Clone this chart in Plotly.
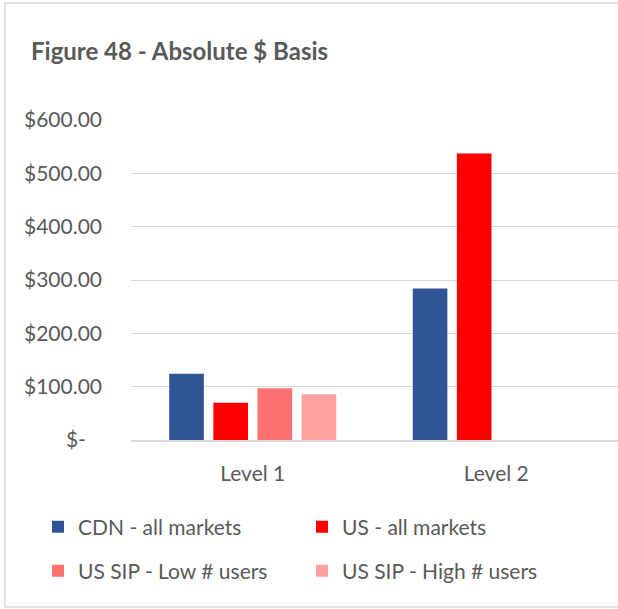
import plotly.graph_objects as go

# Categories and series values (USD)
levels = ["Level 1", "Level 2"]
cdn_all = [124, 284]
us_all = [70, 537]
us_sip_low = [97, None]
us_sip_high = [86, None]

series_names = ["CDN - all markets", "US - all markets",
                "US SIP - Low # users", "US SIP - High # users"]
series_values = [cdn_all, us_all, us_sip_low, us_sip_high]
series_colors = ["#2F5597", "#FF0000", "#FF7171", "#FFA0A0"]

y_ticks = [0, 100, 200, 300, 400, 500, 600]
y_ticktext = ["$-\u00a0\u00a0\u00a0", "$100.00", "$200.00", "$300.00",
              "$400.00", "$500.00", "$600.00"]

W, H = 618, 609
L, R, T, B = 131, 0, 120, 169
FONT = "Lato"
GREY = "#595959"

# legend slots: (left edge px, vertical centre px), two columns x two rows
legend_slots = [(38, 527), (302, 527), (38, 571), (302, 571)]
legend_ids = ["legend", "legend2", "legend3", "legend4"]

fig = go.Figure()
for name, vals, col, lg in zip(series_names, series_values, series_colors, legend_ids):
    fig.add_trace(go.Bar(name=name, x=levels, y=vals, marker_color=col,
                         marker_line_width=0, legend=lg, showlegend=True))

plot_w = W - L - R
plot_h = H - T - B


def px_x(p):
    return (p - L) / plot_w


def px_y(p):
    return (H - B - p) / plot_h


legend_layout = {}
for lg, (lx, ly) in zip(legend_ids, legend_slots):
    legend_layout[lg] = dict(orientation="h", xref="container", yref="container",
                             x=lx / W, y=1 - ly / H, xanchor="left", yanchor="middle",
                             font=dict(family=FONT, size=21, color=GREY),
                             bgcolor="rgba(0,0,0,0)")

fig.update_layout(
    width=W, height=H,
    margin=dict(l=L, r=R, t=T, b=B),
    paper_bgcolor="white", plot_bgcolor="white",
    showlegend=True,
    barmode="group", bargap=0.275, bargroupgap=0.215,
    font=dict(family=FONT, color=GREY, size=21),
    title=dict(text="<b>Figure 48 - Absolute $ Basis</b>",
               font=dict(family=FONT, size=24, color=GREY),
               xref="container", yref="container",
               x=31 / W, y=1 - 52 / H, xanchor="left", yanchor="middle"),
    xaxis=dict(showgrid=False, showline=True, linecolor="#D9D9D9", linewidth=1.5,
               ticks="", ticklabelstandoff=14,
               tickfont=dict(family=FONT, size=21, color=GREY)),
    yaxis=dict(range=[0, 600], tickvals=y_ticks, ticktext=y_ticktext,
               showgrid=True, gridcolor="#D9D9D9", gridwidth=1.3,
               zeroline=False, showline=False, ticks="",
               ticklabelstandoff=28,
               tickfont=dict(family=FONT, size=21, color=GREY)),
    shapes=[dict(type="rect", xref="paper", yref="paper",
                 x0=px_x(5), x1=px_x(W + 5), y0=px_y(607), y1=px_y(3),
                 line=dict(color="#D9D9D9", width=1.5), layer="below")],
    **legend_layout,
)

fig.write_html("out.html")
